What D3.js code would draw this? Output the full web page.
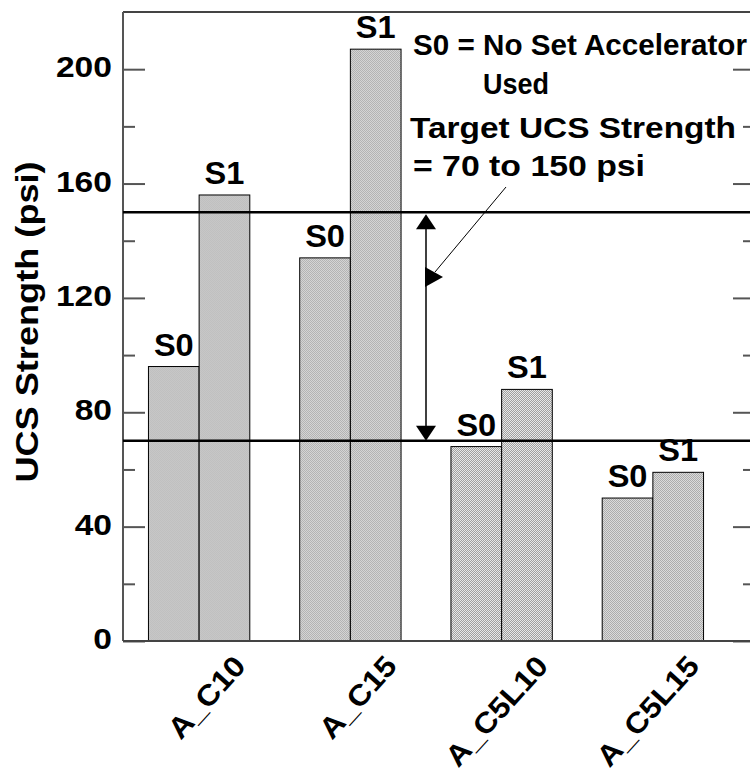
<!DOCTYPE html>
<html>
<head>
  <meta charset="utf-8">
  <title>UCS Strength</title>
  <script src="https://d3js.org/d3.v7.min.js"></script>
  <style>
    body { margin: 0; background: #fff; }
    text { font-family: "Liberation Sans", Arial, sans-serif; font-weight: bold; fill: #000; }
  </style>
</head>
<body>
  <svg width="750" height="772"></svg>

  <script>
    const mixes = ["A_C10", "A_C15", "A_C5L10", "A_C5L15"];
    const series = ["S0", "S1"];
    const s0Values = [96, 134, 68, 50];
    const s1Values = [156, 207, 88, 59];
    const targetRange = [70, 150];
    const yTicks = [0, 40, 80, 120, 160, 200];

    const svg = d3.select("svg");
    const plotL = 123, plotR = 755, plotT = 12, plotB = 641;

    const y = d3.scaleLinear().domain([0, 220]).range([plotB, plotT]);
    const x = d3.scaleBand().domain(mixes).range([123.5, 728.5])
      .paddingInner(0.33).paddingOuter(0.165);
    const xs = d3.scaleBand().domain(series).range([0, x.bandwidth()]);

    // dotted grey fill
    const pat = svg.append("defs").append("pattern")
      .attr("id", "dots").attr("width", 2).attr("height", 2)
      .attr("patternUnits", "userSpaceOnUse");
    pat.append("rect").attr("width", 2).attr("height", 2).attr("fill", "#ebebeb");
    pat.append("rect").attr("width", 1).attr("height", 1).attr("fill", "#9c9c9c");
    pat.append("rect").attr("x", 1).attr("y", 1).attr("width", 1).attr("height", 1).attr("fill", "#9c9c9c");

    // frame
    svg.append("line").attr("x1", plotL).attr("x2", plotR).attr("y1", plotT).attr("y2", plotT)
      .attr("stroke", "#444").attr("stroke-width", 2);

    // axes (ticks inside on both sides)
    const minor = d3.range(20, 220, 40);
    const gl = svg.append("g").attr("transform", `translate(${plotL},0)`);
    gl.call(d3.axisRight(y).tickValues(yTicks).tickSize(22).tickFormat(""));
    gl.append("g").call(d3.axisRight(y).tickValues(minor).tickSize(12).tickFormat(""));
    gl.selectAll(".domain").remove();
    gl.selectAll("line").attr("stroke", "#555").attr("stroke-width", 2);

    const gr = svg.append("g").attr("transform", `translate(${plotR},0)`);
    gr.call(d3.axisLeft(y).tickValues(yTicks).tickSize(22).tickFormat(""));
    gr.append("g").call(d3.axisLeft(y).tickValues(minor).tickSize(12).tickFormat(""));
    gr.selectAll(".domain").remove();
    gr.selectAll("line").attr("stroke", "#555").attr("stroke-width", 2);

    svg.append("line").attr("x1", plotL).attr("x2", plotL).attr("y1", plotT).attr("y2", plotB)
      .attr("stroke", "#555").attr("stroke-width", 2);

    svg.append("g").selectAll("text").data(yTicks).join("text")
      .attr("transform", d => `translate(112,${y(d) + 8}) scale(1.12,1)`)
      .attr("text-anchor", "end").attr("font-size", 30)
      .text(d => d);

    svg.append("text")
      .attr("transform", "translate(38,322) rotate(-90) scale(1.13,1)")
      .attr("text-anchor", "middle").attr("font-size", 32)
      .text("UCS Strength (psi)");

    // bars
    const rows = mixes.map((m, i) => ({ mix: m, vals: [s0Values[i], s1Values[i]] }));
    const grp = svg.append("g").selectAll("g").data(rows).join("g")
      .attr("transform", d => `translate(${x(d.mix)},0)`);
    grp.selectAll("rect").data(d => series.map((s, j) => ({ s, v: d.vals[j] }))).join("rect")
      .attr("x", d => xs(d.s)).attr("width", xs.bandwidth())
      .attr("y", d => y(d.v)).attr("height", d => plotB - y(d.v))
      .attr("fill", "url(#dots)").attr("stroke", "#000").attr("stroke-width", 1);
    grp.selectAll("text").data(d => series.map((s, j) => ({ s, v: d.vals[j] }))).join("text")
      .attr("transform", d => `translate(${xs(d.s) + xs.bandwidth() / 2},${y(d.v) - 11}) scale(1.05,1)`)
      .attr("text-anchor", "middle").attr("font-size", 31)
      .text(d => d.s);

    // baseline
    svg.append("line").attr("x1", plotL).attr("x2", plotR).attr("y1", plotB).attr("y2", plotB)
      .attr("stroke", "#444").attr("stroke-width", 2);

    // category labels
    svg.append("g").selectAll("text").data(mixes).join("text")
      .attr("transform", d => `translate(${x(d) + x.bandwidth() / 2 + 48},667) rotate(-48) scale(1.1,1)`)
      .attr("text-anchor", "end").attr("font-size", 29)
      .text(d => d);

    // target band
    svg.append("g").selectAll("line").data(targetRange).join("line")
      .attr("x1", plotL).attr("x2", plotR).attr("y1", d => y(d)).attr("y2", d => y(d))
      .attr("stroke", "#000").attr("stroke-width", 2.5);

    const ax = 426;
    svg.append("line").attr("x1", ax).attr("x2", ax)
      .attr("y1", y(targetRange[1]) + 10).attr("y2", y(targetRange[0]) - 10)
      .attr("stroke", "#000").attr("stroke-width", 1.5);
    svg.append("path")
      .attr("d", `M${ax},${y(targetRange[1]) + 2}L${ax - 10},${y(targetRange[1]) + 17}L${ax + 10},${y(targetRange[1]) + 17}Z`)
      .attr("fill", "#000");
    svg.append("path")
      .attr("d", `M${ax},${y(targetRange[0])}L${ax - 10},${y(targetRange[0]) - 15}L${ax + 10},${y(targetRange[0]) - 15}Z`)
      .attr("fill", "#000");

    // pointer from note
    svg.append("line").attr("x1", 506).attr("y1", 187).attr("x2", 435).attr("y2", 272)
      .attr("stroke", "#000").attr("stroke-width", 1);
    svg.append("path").attr("d", "M425,267L425,287L443,277Z").attr("fill", "#000");

    // notes
    const notes = [
      { t: "S0 = No Set Accelerator", x: 413, y: 55, w: 334 },
      { t: "Used", x: 483, y: 94, w: 66 },
      { t: "Target UCS Strength", x: 410, y: 138, w: 326 },
      { t: "= 70 to 150 psi", x: 413, y: 176, w: 232 }
    ];
    svg.append("g").selectAll("text").data(notes).join("text")
      .attr("x", d => d.x).attr("y", d => d.y).attr("font-size", 30)
      .attr("textLength", d => d.w).attr("lengthAdjust", "spacingAndGlyphs")
      .text(d => d.t);
  </script>
</body>
</html>
